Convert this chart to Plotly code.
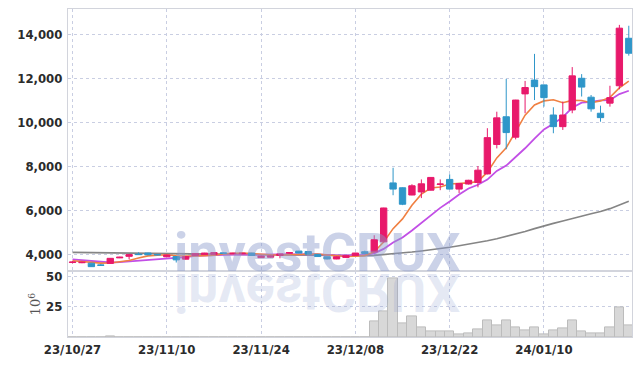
import plotly.graph_objects as go

dates = [
    "2023-10-27", "2023-10-30", "2023-10-31", "2023-11-01", "2023-11-02", "2023-11-03",
    "2023-11-06", "2023-11-07", "2023-11-08", "2023-11-09", "2023-11-10",
    "2023-11-13", "2023-11-14", "2023-11-15", "2023-11-16", "2023-11-17",
    "2023-11-20", "2023-11-21", "2023-11-22", "2023-11-23", "2023-11-24",
    "2023-11-27", "2023-11-28", "2023-11-29", "2023-11-30", "2023-12-01",
    "2023-12-04", "2023-12-05", "2023-12-06", "2023-12-07", "2023-12-08",
    "2023-12-11", "2023-12-12", "2023-12-13", "2023-12-14", "2023-12-15",
    "2023-12-18", "2023-12-19", "2023-12-20", "2023-12-21", "2023-12-22",
    "2023-12-26", "2023-12-27", "2023-12-28", "2024-01-02", "2024-01-03",
    "2024-01-04", "2024-01-05", "2024-01-08", "2024-01-09", "2024-01-10",
    "2024-01-11", "2024-01-12", "2024-01-15", "2024-01-16", "2024-01-17",
    "2024-01-18", "2024-01-19", "2024-01-22", "2024-01-23",
]

opens = [3640, 3630, 3610, 3530, 3600, 3850, 3920, 4020, 4070, 4000,
         3900, 3910, 3790, 3960, 4000, 4010, 4080, 4040, 4040, 4070,
         3860, 3880, 3960, 4060, 4160, 4140, 4010, 3900, 3800, 3870,
         3960, 4130, 4120, 4580, 7260, 7040, 6710, 6850, 6930, 7190,
         7420, 6980, 7210, 7280, 7670, 9010, 10270, 9340, 11310, 11940,
         11720, 10350, 9820, 10580, 12020, 11160, 10430, 10890, 11680, 13840]
highs = [3700, 3670, 3620, 3570, 3840, 3900, 4010, 4100, 4080, 4020,
         3990, 3920, 3920, 4060, 4080, 4100, 4100, 4080, 4070, 4080,
         3940, 3960, 4040, 4110, 4170, 4150, 4020, 3910, 3920, 3960,
         4080, 4180, 4880, 6130, 7950, 7060, 7200, 7420, 7520, 7420,
         7650, 7240, 7400, 8030, 9750, 10500, 11990, 11040, 11900, 13130,
         11730, 10700, 10960, 12530, 12210, 11260, 10775, 11680, 14450, 14410]
lows = [3600, 3610, 3440, 3500, 3590, 3840, 3780, 3990, 3980, 3970,
        3890, 3640, 3780, 3950, 3990, 4000, 4040, 4030, 4020, 3950,
        3850, 3860, 3830, 4050, 4060, 4010, 3900, 3780, 3790, 3850,
        3950, 4020, 4100, 4560, 6700, 6250, 6700, 6570, 6920, 6930,
        6970, 6800, 7190, 7060, 7650, 8830, 8790, 9240, 10430, 11030,
        10730, 9520, 9670, 10430, 11190, 10500, 10045, 10730, 11520, 13050]
closes = [3660, 3650, 3450, 3510, 3830, 3880, 4000, 4000, 3990, 3990,
          3980, 3760, 3910, 4050, 4070, 4090, 4050, 4060, 4060, 3960,
          3930, 3940, 4030, 4090, 4070, 4020, 3910, 3800, 3900, 3950,
          4070, 4050, 4680, 6120, 6980, 6290, 7130, 7220, 7510, 7210,
          6980, 7230, 7380, 7840, 9320, 10220, 9550, 11030, 11600, 11640,
          11140, 9820, 10350, 12130, 11620, 10630, 10230, 11140, 14300, 13160]

ma5 = [3720, 3680, 3640, 3610, 3620, 3664, 3734, 3844, 3940, 3972,
       3992, 3944, 3926, 3938, 3954, 3976, 4034, 4064, 4066, 4044,
       4012, 3990, 3984, 3990, 4012, 4030, 4024, 3978, 3940, 3916,
       3926, 3954, 4130, 4574, 5180, 5624, 6240, 6748, 7026, 7072,
       7210, 7230, 7262, 7328, 7750, 8398, 8862, 9592, 10344, 10808,
       10992, 11046, 10910, 11016, 11012, 10910, 10992, 11150, 11584, 11892]
ma10 = [3780, 3740, 3700, 3660, 3640, 3660, 3690, 3730, 3765, 3796,
        3828, 3839, 3885, 3939, 3963, 3984, 3989, 3995, 4002, 3999,
        3994, 4012, 4024, 4028, 4028, 4021, 4007, 3981, 3965, 3964,
        3978, 3989, 4054, 4257, 4548, 4775, 5097, 5439, 5800, 6126,
        6417, 6735, 7005, 7177, 7411, 7804, 8046, 8427, 8836, 9279,
        9695, 9954, 10251, 10680, 10910, 10951, 11019, 11030, 11300, 11452]
ma60 = [4100, 4096, 4092, 4088, 4083, 4078, 4073, 4068, 4063, 4058,
        4052, 4046, 4040, 4034, 4028, 4022, 4016, 4010, 4004, 3998,
        3992, 3986, 3980, 3975, 3970, 3965, 3960, 3955, 3950, 3947,
        3948, 3952, 3965, 3995, 4030, 4070, 4115, 4165, 4215, 4265,
        4330, 4400, 4470, 4545, 4630, 4720, 4820, 4930, 5050, 5180,
        5310, 5420, 5530, 5650, 5760, 5860, 5960, 6090, 6260, 6430]

volume = [0.05, 0.05, 0.05, 0.05, 0.9, 0.05, 0.05, 0.05, 0.05, 0.05,
          0.05, 0.05, 0.05, 0.05, 0.05, 0.05, 0.05, 0.05, 0.05, 0.05,
          0.05, 0.05, 0.05, 0.05, 0.05, 0.05, 0.05, 0.05, 0.05, 0.05,
          0.05, 0.05, 12.5, 21.0, 48.5, 11.0, 17.0, 7.5, 4.2, 4.2,
          4.2, 2.5, 3.3, 6.0, 13.6, 9.2, 13.3, 8.3, 5.8, 8.3,
          2.5, 5.8, 6.7, 13.3, 4.2, 3.3, 3.3, 7.5, 24.2, 9.2]

tick_dates = ["2023-10-27", "2023-11-10", "2023-11-24", "2023-12-08", "2023-12-22", "2024-01-10"]
tick_labels = ["23/10/27", "23/11/10", "23/11/24", "23/12/08", "23/12/22", "24/01/10"]
price_ticks = [4000, 6000, 8000, 10000, 12000, 14000]
volume_ticks = [25, 50]

UP = "#e8196b"
DOWN = "#2f96c9"
GRID = "#c9cee2"
FRAME = "#d2d4dc"
TICKFONT = dict(family="DejaVu Sans Condensed, DejaVu Sans, sans-serif",
                size=13, color="#2b2b2b", weight="bold")

fig = go.Figure()
fig.add_trace(go.Bar(x=dates, y=volume, xaxis="x", yaxis="y",
                     marker=dict(color="#d8d8d8", line=dict(color="#bcbcbc", width=1)),
                     showlegend=False, hoverinfo="skip"))
fig.add_trace(go.Scatter(x=dates, y=ma60, xaxis="x2", yaxis="y2", mode="lines",
                         line=dict(color="#858585", width=1.6), showlegend=False))
fig.add_trace(go.Scatter(x=dates, y=ma10, xaxis="x2", yaxis="y2", mode="lines",
                         line=dict(color="#c24fe6", width=1.8), showlegend=False))
fig.add_trace(go.Scatter(x=dates, y=ma5, xaxis="x2", yaxis="y2", mode="lines",
                         line=dict(color="#f08042", width=1.6), showlegend=False))
fig.add_trace(go.Candlestick(x=dates, open=opens, high=highs, low=lows, close=closes,
                             xaxis="x2", yaxis="y3",
                             increasing=dict(line=dict(color=UP, width=1), fillcolor=UP),
                             decreasing=dict(line=dict(color=DOWN, width=1), fillcolor=DOWN),
                             whiskerwidth=0, showlegend=False))

xrange = [-0.48, 59.34]
prange = [3235, 15172]
common_x = dict(type="category", range=xrange, tickvals=tick_dates, ticktext=tick_labels,
                showgrid=True, gridcolor=GRID, griddash="dot", gridwidth=1,
                showline=True, linecolor=FRAME, mirror=True, zeroline=False,
                automargin=False, rangeslider=dict(visible=False))

fig.update_layout(
    width=642, height=366,
    margin=dict(l=68, r=10, t=9, b=29),
    paper_bgcolor="white", plot_bgcolor="white",
    bargap=0, boxgap=0.18, boxgroupgap=0.18,
    showlegend=False,
    xaxis=dict(**common_x, anchor="y", tickfont=TICKFONT, ticks="", ticklabelstandoff=0),
    xaxis2=dict(**common_x, anchor="y2", matches="x", showticklabels=False),
    yaxis=dict(domain=[0, 0.2], range=[0, 53.9], tickvals=volume_ticks,
               showgrid=True, gridcolor=GRID, griddash="dot", zeroline=False,
               showline=True, linecolor=FRAME, mirror=True, tickfont=TICKFONT, ticks="",
               ticklabelstandoff=2, automargin=False,
               title=dict(text="10<sup>6</sup>", standoff=2,
                          font=dict(family="DejaVu Serif, serif", size=13, color="#555555"))),
    yaxis2=dict(domain=[0.2, 1], range=prange, tickvals=price_ticks, tickformat=",",
                showgrid=True, gridcolor=GRID, griddash="dot", zeroline=False,
                showline=True, linecolor=FRAME, mirror=True, tickfont=TICKFONT, ticks="",
                ticklabelstandoff=2, automargin=False),
    yaxis3=dict(overlaying="y2", range=prange, showgrid=False, showticklabels=False,
                zeroline=False, showline=False, automargin=False),
    annotations=[
        dict(text="investCRUX", xref="paper", yref="paper", x=0.443, y=0.257,
             xanchor="center", yanchor="middle", showarrow=False,
             font=dict(family="Roboto", size=54, weight="bold", color="rgba(140,155,205,0.45)")),
        dict(text="investCRUX", xref="paper", yref="paper", x=0.443, y=0.135,
             xanchor="center", yanchor="middle", showarrow=False,
             font=dict(family="Roboto", size=54, weight="bold", color="rgba(140,155,205,0.22)")),
    ],
)

post = """
document.documentElement.style.margin = '0';
document.body.style.margin = '0';
document.body.style.padding = '0';
document.body.style.overflow = 'hidden';
var gd = document.getElementById('{plot_id}');
function flipWm(){
  var anns = gd.querySelectorAll('g.annotation');
  if (anns.length > 1) {
    var g = anns[1];
    g.removeAttribute('transform');
    var b = g.getBBox();
    var cy = b.y + b.height / 2;
    g.setAttribute('transform', 'translate(0,' + (2 * cy) + ') scale(1,-1)');
  }
}
flipWm();
gd.on('plotly_afterplot', flipWm);
"""
fig.write_html("out.html", post_script=post, config={"displayModeBar": False})
